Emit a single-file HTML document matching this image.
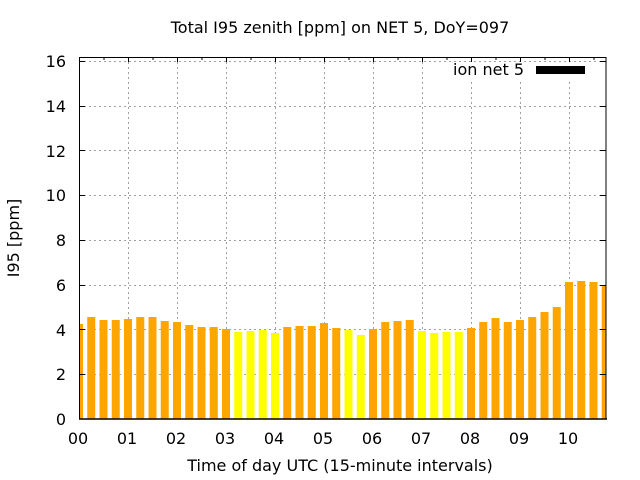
<!DOCTYPE html>
<html>
<head>
<meta charset="utf-8">
<style>
  html, body { margin: 0; padding: 0; background: #ffffff; }
  svg { display: block; }
  text { font-family: "DejaVu Sans", "Liberation Sans", sans-serif; font-size: 16px; fill: #000; }
</style>
</head>
<body>
<svg width="640" height="480" viewBox="0 0 640 480" xmlns="http://www.w3.org/2000/svg">
  <rect x="0" y="0" width="640" height="480" fill="#ffffff"/>
  <defs>
    <clipPath id="plot"><rect x="79" y="57" width="527.5" height="362"/></clipPath>
  </defs>

  <!-- grid -->
  <g stroke="#a0a0a0" stroke-width="1" stroke-dasharray="2,3" fill="none">
    <line x1="79" y1="374.5" x2="606" y2="374.5"/>
    <line x1="79" y1="329.5" x2="606" y2="329.5"/>
    <line x1="79" y1="285.5" x2="606" y2="285.5"/>
    <line x1="79" y1="240.5" x2="606" y2="240.5"/>
    <line x1="79" y1="195.5" x2="606" y2="195.5"/>
    <line x1="79" y1="150.5" x2="606" y2="150.5"/>
    <line x1="79" y1="106.5" x2="606" y2="106.5"/>
    <line x1="79" y1="61.5" x2="606" y2="61.5"/>
    <line x1="128.5" y1="57" x2="128.5" y2="419"/>
    <line x1="177.5" y1="57" x2="177.5" y2="419"/>
    <line x1="226.5" y1="57" x2="226.5" y2="419"/>
    <line x1="275.5" y1="57" x2="275.5" y2="419"/>
    <line x1="324.5" y1="57" x2="324.5" y2="419"/>
    <line x1="373.5" y1="57" x2="373.5" y2="419"/>
    <line x1="422.5" y1="57" x2="422.5" y2="419"/>
    <line x1="471.5" y1="57" x2="471.5" y2="419"/>
    <line x1="520.5" y1="57" x2="520.5" y2="419"/>
    <line x1="569.5" y1="57" x2="569.5" y2="419"/>
  </g>

  <!-- bars -->
  <g clip-path="url(#plot)" stroke="none">
    <rect x="75" y="324" width="8" height="95" fill="#FFA500"/>
    <rect x="87.25" y="317" width="8" height="102" fill="#FFA500"/>
    <rect x="99.5" y="320" width="8" height="99" fill="#FFA500"/>
    <rect x="111.75" y="320" width="8" height="99" fill="#FFA500"/>
    <rect x="124" y="319" width="8" height="100" fill="#FFA500"/>
    <rect x="136.25" y="317" width="8" height="102" fill="#FFA500"/>
    <rect x="148.5" y="317" width="8" height="102" fill="#FFA500"/>
    <rect x="160.75" y="321" width="8" height="98" fill="#FFA500"/>
    <rect x="173" y="322" width="8" height="97" fill="#FFA500"/>
    <rect x="185.25" y="325" width="8" height="94" fill="#FFA500"/>
    <rect x="197.5" y="327" width="8" height="92" fill="#FFA500"/>
    <rect x="209.75" y="327" width="8" height="92" fill="#FFA500"/>
    <rect x="222" y="329" width="8" height="90" fill="#FFA500"/>
    <rect x="234.25" y="332" width="8" height="87" fill="#FFFF00"/>
    <rect x="246.5" y="331" width="8" height="88" fill="#FFFF00"/>
    <rect x="258.75" y="330" width="8" height="89" fill="#FFFF00"/>
    <rect x="271" y="333" width="8" height="86" fill="#FFFF00"/>
    <rect x="283.25" y="327" width="8" height="92" fill="#FFA500"/>
    <rect x="295.5" y="326" width="8" height="93" fill="#FFA500"/>
    <rect x="307.75" y="326" width="8" height="93" fill="#FFA500"/>
    <rect x="320" y="323" width="8" height="96" fill="#FFA500"/>
    <rect x="332.25" y="328" width="8" height="91" fill="#FFA500"/>
    <rect x="344.5" y="330" width="8" height="89" fill="#FFFF00"/>
    <rect x="356.75" y="335" width="8" height="84" fill="#FFFF00"/>
    <rect x="369" y="329" width="8" height="90" fill="#FFA500"/>
    <rect x="381.25" y="322" width="8" height="97" fill="#FFA500"/>
    <rect x="393.5" y="321" width="8" height="98" fill="#FFA500"/>
    <rect x="405.75" y="320" width="8" height="99" fill="#FFA500"/>
    <rect x="418" y="331" width="8" height="88" fill="#FFFF00"/>
    <rect x="430.25" y="333" width="8" height="86" fill="#FFFF00"/>
    <rect x="442.5" y="332" width="8" height="87" fill="#FFFF00"/>
    <rect x="454.75" y="332" width="8" height="87" fill="#FFFF00"/>
    <rect x="467" y="328" width="8" height="91" fill="#FFA500"/>
    <rect x="479.25" y="322" width="8" height="97" fill="#FFA500"/>
    <rect x="491.5" y="318" width="8" height="101" fill="#FFA500"/>
    <rect x="503.75" y="322" width="8" height="97" fill="#FFA500"/>
    <rect x="516" y="320" width="8" height="99" fill="#FFA500"/>
    <rect x="528.25" y="317" width="8" height="102" fill="#FFA500"/>
    <rect x="540.5" y="312" width="8" height="107" fill="#FFA500"/>
    <rect x="552.75" y="307" width="8" height="112" fill="#FFA500"/>
    <rect x="565" y="282" width="8" height="137" fill="#FFA500"/>
    <rect x="577.25" y="281" width="8" height="138" fill="#FFA500"/>
    <rect x="589.5" y="282" width="8" height="137" fill="#FFA500"/>
    <rect x="601.75" y="285" width="8" height="134" fill="#FFA500"/>
  </g>

  <!-- legend (opaque key area) -->
  <rect x="444" y="62" width="158" height="18" fill="#ffffff"/>
  <text x="524" y="75" text-anchor="end">ion net 5</text>
  <rect x="536" y="66" width="49" height="8" fill="#000000"/>

  <!-- ticks -->
  <g stroke="#000" stroke-width="1" fill="none">
    <!-- left y ticks -->
    <line x1="79" y1="374.5" x2="85" y2="374.5"/>
    <line x1="79" y1="329.5" x2="85" y2="329.5"/>
    <line x1="79" y1="285.5" x2="85" y2="285.5"/>
    <line x1="79" y1="240.5" x2="85" y2="240.5"/>
    <line x1="79" y1="195.5" x2="85" y2="195.5"/>
    <line x1="79" y1="150.5" x2="85" y2="150.5"/>
    <line x1="79" y1="106.5" x2="85" y2="106.5"/>
    <line x1="79" y1="61.5" x2="85" y2="61.5"/>
    <!-- right y ticks -->
    <line x1="600" y1="374.5" x2="606" y2="374.5"/>
    <line x1="600" y1="329.5" x2="606" y2="329.5"/>
    <line x1="600" y1="285.5" x2="606" y2="285.5"/>
    <line x1="600" y1="240.5" x2="606" y2="240.5"/>
    <line x1="600" y1="195.5" x2="606" y2="195.5"/>
    <line x1="600" y1="150.5" x2="606" y2="150.5"/>
    <line x1="600" y1="106.5" x2="606" y2="106.5"/>
    <line x1="600" y1="61.5" x2="606" y2="61.5"/>
    <!-- top x major ticks -->
    <line x1="128.5" y1="57" x2="128.5" y2="62"/>
    <line x1="177.5" y1="57" x2="177.5" y2="62"/>
    <line x1="226.5" y1="57" x2="226.5" y2="62"/>
    <line x1="275.5" y1="57" x2="275.5" y2="62"/>
    <line x1="324.5" y1="57" x2="324.5" y2="62"/>
    <line x1="373.5" y1="57" x2="373.5" y2="62"/>
    <line x1="422.5" y1="57" x2="422.5" y2="62"/>
    <line x1="471.5" y1="57" x2="471.5" y2="62"/>
    <line x1="520.5" y1="57" x2="520.5" y2="62"/>
    <line x1="569.5" y1="57" x2="569.5" y2="62"/>
    <!-- top minor ticks -->
    <line x1="104" y1="57" x2="104" y2="60"/>
    <line x1="153" y1="57" x2="153" y2="60"/>
    <line x1="202" y1="57" x2="202" y2="60"/>
    <line x1="251" y1="57" x2="251" y2="60"/>
    <line x1="300" y1="57" x2="300" y2="60"/>
    <line x1="349" y1="57" x2="349" y2="60"/>
    <line x1="398" y1="57" x2="398" y2="60"/>
    <line x1="447" y1="57" x2="447" y2="60"/>
    <line x1="496" y1="57" x2="496" y2="60"/>
    <line x1="545" y1="57" x2="545" y2="60"/>
    <line x1="594" y1="57" x2="594" y2="60"/>
  </g>

  <!-- border -->
  <rect x="79.5" y="57.5" width="526.5" height="361.5" fill="none" stroke="#000" stroke-width="1"/>
  <line x1="79" y1="419" x2="607" y2="419" stroke="#000" stroke-width="1.5"/>

  <!-- y tick labels -->
  <g text-anchor="end">
    <text x="66" y="425">0</text>
    <text x="66" y="380">2</text>
    <text x="66" y="336">4</text>
    <text x="66" y="291">6</text>
    <text x="66" y="246">8</text>
    <text x="66" y="201">10</text>
    <text x="66" y="157">12</text>
    <text x="66" y="112">14</text>
    <text x="66" y="67">16</text>
  </g>

  <!-- x tick labels -->
  <g text-anchor="middle">
    <text x="78" y="444">00</text>
    <text x="127" y="444">01</text>
    <text x="176" y="444">02</text>
    <text x="225" y="444">03</text>
    <text x="274" y="444">04</text>
    <text x="323" y="444">05</text>
    <text x="372" y="444">06</text>
    <text x="421" y="444">07</text>
    <text x="470" y="444">08</text>
    <text x="519" y="444">09</text>
    <text x="568" y="444">10</text>
  </g>

  <!-- titles -->
  <text x="340" y="33" text-anchor="middle">Total I95 zenith [ppm] on NET 5, DoY=097</text>
  <text x="340" y="471" text-anchor="middle">Time of day UTC (15-minute intervals)</text>
  <text transform="translate(19,238) rotate(-90)" text-anchor="middle">I95 [ppm]</text>
</svg>
</body>
</html>
